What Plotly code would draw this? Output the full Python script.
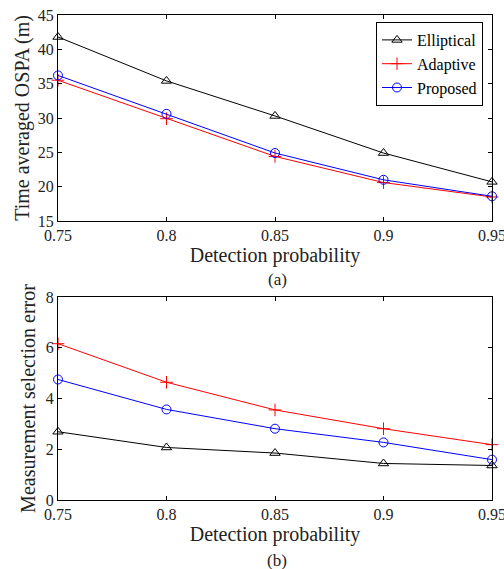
import plotly.graph_objects as go

pd_vals = [0.75, 0.8, 0.85, 0.9, 0.95]
ospa_elliptical = [41.8, 35.4, 30.3, 24.9, 20.7]
ospa_adaptive = [35.5, 29.9, 24.4, 20.6, 18.5]
ospa_proposed = [36.2, 30.6, 24.9, 21.0, 18.6]
mse_elliptical = [2.69, 2.07, 1.85, 1.44, 1.36]
mse_adaptive = [6.16, 4.64, 3.55, 2.81, 2.18]
mse_proposed = [4.75, 3.57, 2.81, 2.27, 1.59]
x_ticks = [0.75, 0.8, 0.85, 0.9, 0.95]
x_tick_labels = ["0.75", "0.8", "0.85", "0.9", "0.95"]

FONT = "Liberation Serif"
W, H = 504, 569
# plot-area edges in page pixels
LEFT, RIGHT, TOP, BOTTOM = 58, 492, 15, 500
ML, MR, MT, MB = LEFT, W - RIGHT, TOP, H - BOTTOM
PW, PH = W - ML - MR, H - MT - MB


def py(pix):
    """page pixel row -> plot-area paper fraction"""
    return 1 - (pix - TOP) / PH


def px(pix):
    return (pix - LEFT) / PW


series = [
    ("Elliptical", "black", "triangle-up-open", ospa_elliptical, mse_elliptical),
    ("Adaptive", "red", "cross-thin-open", ospa_adaptive, mse_adaptive),
    ("Proposed", "blue", "circle-open", ospa_proposed, mse_proposed),
]

fig = go.Figure()
for name, color, sym, top, bot in series:
    fig.add_trace(go.Scatter(
        x=pd_vals, y=top, name=name, mode="lines+markers", cliponaxis=False,
        line=dict(color=color, width=1),
        marker=dict(symbol=sym, size=9, color=color, line=dict(color=color, width=1)),
        xaxis="x", yaxis="y", showlegend=True))
for name, color, sym, top, bot in series:
    fig.add_trace(go.Scatter(
        x=pd_vals, y=bot, name=name, mode="lines+markers", cliponaxis=False,
        line=dict(color=color, width=1),
        marker=dict(symbol=sym, size=9, color=color, line=dict(color=color, width=1)),
        xaxis="x2", yaxis="y2", showlegend=False))

axis_common = dict(
    showline=True, linecolor="black", linewidth=1, mirror="ticks",
    ticks="inside", ticklen=4, tickcolor="black", showgrid=False, zeroline=False,
    automargin=False, ticklabeloverflow="allow",
    tickfont=dict(family=FONT, size=16, color="#222"),
)
TITLE_FONT = dict(family=FONT, size=20, color="#222")

fig.update_layout(
    width=W, height=H, margin=dict(l=ML, r=MR, t=MT, b=MB),
    paper_bgcolor="white", plot_bgcolor="white",
    font=dict(family=FONT, color="#222"),
    hovermode=False,
    xaxis=dict(domain=[0, 1], anchor="y", range=[0.75, 0.95], tickvals=x_ticks,
               ticktext=x_tick_labels,
               title=dict(text="Detection probability", font=TITLE_FONT, standoff=3),
               **axis_common),
    yaxis=dict(domain=[py(221), 1], anchor="x", range=[15, 45],
               tickvals=[15, 20, 25, 30, 35, 40, 45],
               title=dict(text="Time averaged OSPA (m)", font=TITLE_FONT, standoff=2),
               **axis_common),
    xaxis2=dict(domain=[0, 1], anchor="y2", range=[0.75, 0.95], tickvals=x_ticks,
                ticktext=x_tick_labels,
                title=dict(text="Detection probability", font=TITLE_FONT, standoff=3),
                **axis_common),
    yaxis2=dict(domain=[0, py(297)], anchor="x2", range=[0, 8],
                tickvals=[0, 2, 4, 6, 8],
                title=dict(text="Measurement selection error", font=TITLE_FONT, standoff=4),
                **axis_common),
    legend=dict(x=px(483), y=py(22), xanchor="right", yanchor="top",
                bgcolor="white", bordercolor="black", borderwidth=1,
                font=dict(family=FONT, size=16, color="black"),
                tracegroupgap=0),
    annotations=[
        dict(text="(a)", x=px(277), y=py(279), xref="paper", yref="paper",
             xanchor="center", yanchor="middle",
             showarrow=False, font=dict(family=FONT, size=17, color="#222")),
        dict(text="(b)", x=px(277), y=py(560), xref="paper", yref="paper",
             xanchor="center", yanchor="middle",
             showarrow=False, font=dict(family=FONT, size=17, color="#222")),
    ],
)

fig.write_html(
    "out.html",
    config={"displayModeBar": False, "staticPlot": True},
    post_script="document.body.style.margin='0';document.body.style.overflow='hidden';",
)
